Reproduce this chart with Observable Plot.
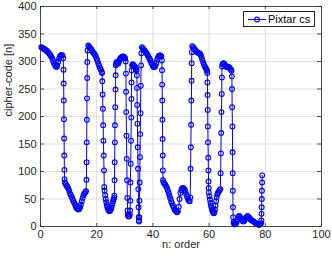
<!DOCTYPE html>
<html><head><meta charset="utf-8">
<script src="https://cdn.jsdelivr.net/npm/d3@7"></script>
<script src="https://cdn.jsdelivr.net/npm/@observablehq/plot@0.6"></script>
<style>
body{margin:0;background:#fff;}
#wrap{position:relative;width:332px;height:256px;font-family:"Liberation Sans",Arial,sans-serif;}
#wrap svg{display:block;}
#legend{position:absolute;left:243px;top:11px;width:70px;height:14px;border:1px solid #262626;background:#fff;}
#legend svg{position:absolute;left:2px;top:0px;}
#legend span{position:absolute;left:24px;top:0px;font-size:11px;line-height:15px;color:#000;white-space:nowrap;}
</style></head><body><div id="wrap"></div>
<script>
const order = [
 0.3,0.6,0.9,1.2,1.5,1.8,2.1,2.4,2.7,3.0,3.3,3.6,3.9,4.2,4.5,4.8,5.1,5.4,5.7,6.0,6.3,6.6,6.9,7.2,7.5,7.8,8.1,
 8.2,8.25,8.3,8.35,8.4,8.45,8.5,8.55,
 8.7,9.0,9.3,9.6,9.9,10.2,10.5,10.8,11.1,11.4,11.7,12.0,12.3,12.6,12.9,13.2,13.5,13.8,14.1,14.4,14.7,15.0,15.3,15.6,15.9,16.2,
 16.35,16.4,16.45,16.5,16.55,16.6,16.65,16.75,
 17.0,17.3,17.6,17.9,18.2,18.5,18.8,19.1,19.4,19.7,20.0,20.3,20.6,20.9,21.2,21.5,21.8,
 21.9,22.0,22.1,22.2,22.3,22.4,22.5,22.6,22.7,
 22.8,23.0,23.2,23.4,23.6,23.8,24.0,24.2,24.4,24.6,24.8,25.0,25.2,25.4,25.6,25.8,26.0,26.2,
 26.3,26.35,26.4,26.45,26.5,26.6,26.7,26.75,26.8,
 26.9,27.1,27.3,27.5,27.7,27.9,28.1,28.3,28.6,28.9,29.2,29.5,29.8,30.1,30.3,
 30.4,30.45,30.5,30.6,30.7,30.8,30.9,31.0,
 31.05,31.2,31.4,31.6,31.8,
 31.9,31.95,32.0,32.1,32.2,32.3,32.35,32.4,32.45,
 32.6,32.8,33.0,33.2,33.4,33.6,33.8,34.0,34.2,
 34.3,34.35,34.4,34.5,34.6,34.7,34.8,34.9,34.95,35.0,
 35.05,
 35.15,35.2,35.3,35.4,35.5,35.6,35.7,35.8,35.9,
 36.1,36.4,36.7,37.0,37.3,37.6,37.9,38.2,38.5,38.8,39.1,39.4,39.7,40.0,40.3,40.6,40.9,41.2,41.5,41.8,42.1,42.4,42.7,43.0,43.2,
 43.25,43.3,43.35,43.4,43.45,43.5,43.55,43.6,
 43.8,44.1,44.4,44.7,45.0,45.3,45.6,45.9,46.2,46.5,46.8,47.1,47.4,47.7,48.0,48.3,48.6,48.9,49.2,49.5,49.8,50.1,50.4,50.7,51.0,51.3,51.6,51.9,52.2,52.5,52.8,53.1,
 53.3,53.4,53.5,53.6,53.7,53.75,53.8,53.85,
 54.0,54.3,54.6,54.9,55.2,55.5,55.8,56.1,56.4,56.7,57.0,57.3,57.6,57.9,58.2,58.5,58.8,59.1,59.3,
 59.35,59.4,59.45,59.5,59.55,59.6,59.7,59.75,59.8,59.85,
 59.9,60.1,60.3,60.5,60.7,60.9,61.1,61.3,61.5,61.7,61.9,62.1,62.3,62.5,62.7,62.9,63.1,63.4,63.7,64.0,
 64.1,64.2,64.3,64.4,64.5,64.55,64.6,
 64.8,65.1,65.4,65.7,66.0,66.3,66.6,66.9,67.2,67.5,67.8,68.0,
 68.1,68.15,68.2,68.3,68.35,68.4,68.45,68.5,68.55,
 68.7,68.9,69.1,69.3,69.5,69.8,70.1,70.4,70.7,71.0,71.3,71.6,71.9,72.2,72.5,72.8,73.1,73.4,73.7,74.0,74.3,74.6,74.9,75.2,75.5,75.8,76.1,76.4,76.7,77.0,77.3,77.6,77.9,78.2,78.5,
 78.6,78.65,78.7,78.75,78.8,78.85,78.9
];
const code = [
 326,325,324,323,322,321,320,318,317,315,313,311,308,305,301,297,294,291,290,293,299,305,309,311,312,311,306,
 285,260,229,195,160,129,103,86,
 80,77,74,72,69,65,60,57,54,50,46,43,40,36,33,32,31,32,35,40,46,52,57,60,62,64,
 85,117,153,194,233,270,299,320,
 329,327,325,323,321,318,316,314,312,309,305,301,296,292,288,285,281,
 279,264,240,214,184,156,129,102,72,
 65,57,50,44,39,35,32,30,28,28,29,31,34,38,42,46,49,52,
 56,84,117,153,184,217,249,275,293,
 296,299,298,296,297,300,303,305,307,308,309,309,308,306,300,
 278,245,208,165,123,84,52,29,
 22,19,18,19,22,
 29,47,80,114,156,198,232,262,284,
 293,295,294,292,292,290,288,286,284,
 275,252,221,187,144,105,68,35,17,11,
 9,
 17,47,80,126,168,206,256,293,315,
 326,324,322,320,318,316,314,311,308,305,302,298,295,292,290,290,292,297,303,307,310,311,311,309,302,
 284,258,229,194,159,129,102,84,
 80,78,76,73,70,66,61,56,51,46,42,38,35,31,29,27,26,28,36,50,61,66,69,70,69,67,63,58,54,50,47,46,
 53,105,144,185,229,265,297,317,
 328,326,324,322,320,318,317,316,315,314,312,308,303,298,294,291,288,285,283,
 279,262,239,212,182,153,125,102,82,70,
 62,55,49,43,38,34,30,27,25,24,26,31,38,46,53,58,61,63,66,68,
 97,133,170,208,241,271,291,
 295,297,296,293,291,290,291,290,289,287,285,283,
 273,250,217,182,135,97,65,35,17,
 8,5,4,4,5,8,13,17,19,18,15,12,10,9,10,13,16,18,19,18,16,14,12,11,10,9,8,7,6,5,4,3,3,4,6,
 11,23,35,50,65,80,93
];
const xTicks = [0,20,40,60,80,100];
const yTicks = [0,50,100,150,200,250,300,350,400];
const seriesName = "Pixtar cs";
const xLabel = "n: order";
const yLabel = "cipher-code [n]";

const data = order.map((x, i) => ({x, y: code[i]}));
const blue = "#0000ff";
const ink = "#262626";

const chart = Plot.plot({
  width: 332, height: 256,
  marginLeft: 40, marginRight: 11, marginTop: 6, marginBottom: 30,
  style: {fontFamily: '"Liberation Sans", Arial, sans-serif', fontSize: "11px", color: ink, background: "white"},
  x: {domain: [0, 100]},
  y: {domain: [0, 400]},
  marks: [
    Plot.gridX(xTicks, {stroke: "#dfdfdf", strokeOpacity: 1}),
    Plot.gridY(yTicks, {stroke: "#dfdfdf", strokeOpacity: 1}),
    Plot.line(data, {x: "x", y: "y", stroke: blue, strokeWidth: 1}),
    Plot.dot(data, {x: "x", y: "y", r: 2.4, stroke: blue, strokeWidth: 1.1, fill: "none"}),
    Plot.frame({stroke: ink, strokeWidth: 0.8}),
    Plot.ruleX(xTicks, {insetTop: 217, stroke: ink, strokeWidth: 0.8}),
    Plot.ruleX(xTicks, {insetBottom: 217, stroke: ink, strokeWidth: 0.8}),
    Plot.ruleY(yTicks, {insetRight: 277, stroke: ink, strokeWidth: 0.8}),
    Plot.ruleY(yTicks, {insetLeft: 277, stroke: ink, strokeWidth: 0.8}),
    Plot.axisX(xTicks, {tickSize: 0, tickPadding: 4, label: null, fill: ink}),
    Plot.axisY(yTicks, {tickSize: 0, tickPadding: 4, label: null, fill: ink}),
    Plot.text([xLabel], {text: d => d, frameAnchor: "bottom", dy: 21, fill: ink, fontSize: 11}),
    Plot.text([yLabel], {text: d => d, frameAnchor: "left", rotate: -90, dx: -32, fill: ink, fontSize: 11})
  ]
});
const wrap = document.getElementById("wrap");
wrap.appendChild(chart);

const legend = document.createElement("div");
legend.id = "legend";
legend.innerHTML = `<svg width="22" height="14"><line x1="2" y1="7.5" x2="20" y2="7.5" stroke="${blue}" stroke-width="1"/><circle cx="11" cy="7.5" r="2.4" fill="none" stroke="${blue}" stroke-width="1.1"/></svg><span></span>`;
legend.querySelector("span").textContent = seriesName;
wrap.appendChild(legend);
</script></body></html>
